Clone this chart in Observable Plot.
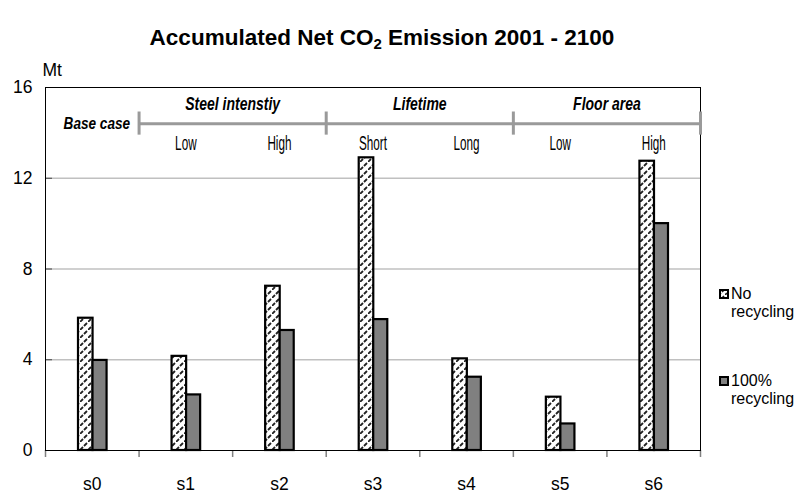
<!DOCTYPE html>
<html>
<head>
<meta charset="utf-8">
<script src="https://cdn.jsdelivr.net/npm/d3@7"></script>
<script src="https://cdn.jsdelivr.net/npm/@observablehq/plot@0.6"></script>
<style>
  body { margin: 0; background: #fff; font-family: "Liberation Sans", Arial, sans-serif; }
  #wrap { position: relative; width: 808px; height: 495px; overflow: hidden; background: #fff; }
  #title { position: absolute; left: 0; top: 26px; width: 764px; text-align: center; font-weight: bold; font-size: 22.5px; line-height: 24px; color: #000; }
  #title .sub { font-size: 15px; vertical-align: -4px; }
  #chart { position: absolute; left: 0; top: 50px; }
  .leg { position: absolute; left: 719px; font-size: 16px; line-height: 18px; color: #000; }
  .leg svg { position: absolute; left: 0; top: 4px; }
  .leg div { padding-left: 12px; }
</style>
</head>
<body>
<div id="wrap">
  <div id="title">Accumulated Net CO<span class="sub">2</span> Emission 2001 - 2100</div>
  <div id="chart"></div>
  <div id="legend"></div>
</div>
<script>
// ---- data ----
const categories = ["s0", "s1", "s2", "s3", "s4", "s5", "s6"];
const noRecycling = [5.83, 4.15, 7.24, 12.9, 4.04, 2.35, 12.75];
const fullRecycling = [3.97, 2.45, 5.29, 5.77, 3.23, 1.17, 10.0];
const yTicks = [0, 4, 8, 12, 16];
const seriesNames = [["No", "recycling"], ["100%", "recycling"]];
const baseLabel = "Base case";
const baseCategory = "s0";
const groupNames = ["Steel intenstiy", "Lifetime", "Floor area"];
const groupStarts = ["s1", "s3", "s5"];
const groupEnds = ["s2", "s4", "s6"];
const subLabels = ["Low", "High", "Short", "Long", "Low", "High"];
const subCategories = ["s1", "s2", "s3", "s4", "s5", "s6"];
const unitLabel = "Mt";

// ---- derived tables ----
const idx = c => categories.indexOf(c);
const bars = categories.map((c, i) => ({cat: c, i, no: noRecycling[i], full: fullRecycling[i]}));
const groups = groupNames.map((g, k) => ({name: g, a: idx(groupStarts[k]), b: idx(groupEnds[k]) + 1}));
const bracketEdges = [...groups.map(g => g.a), groups[groups.length - 1].b];
const subs = subLabels.map((s, k) => ({text: s, x: idx(subCategories[k]) + 0.5}));

// annotation levels (layout)
const bracketLevel = 14.4, bracketTop = 14.92, bracketBottom = 13.9, groupLevel = 15.02, subLevel = 13.5;

const chart = Plot.plot({
  width: 808,
  height: 445,
  marginLeft: 45,
  marginRight: 108,
  marginTop: 37,
  marginBottom: 45,
  x: {domain: [0, categories.length], axis: null},
  y: {domain: [0, 16], axis: null},
  style: {fontFamily: "'Liberation Sans', Arial, sans-serif", fontSize: "16px", color: "#000", background: "#fff", overflow: "visible"},
  marks: [
    Plot.ruleY(yTicks.filter(d => d > 0 && d < 16), {stroke: "#c0c0c0", strokeWidth: 1.5}),
    Plot.axisY({ticks: yTicks, tickSize: 0, tickPadding: 13, fontSize: 17.5, tickFormat: d => String(d)}),
    Plot.axisY({ticks: yTicks.filter(d => d > 0 && d < 16), tickSize: -7, tickFormat: () => "", stroke: "#444"}),
    Plot.axisX({ticks: d3.range(0, categories.length + 1), tickSize: 7, tickFormat: () => "", stroke: "#808080", strokeWidth: 1.5}),
    Plot.axisX({ticks: categories.map((c, i) => i + 0.5), tickFormat: d => categories[Math.floor(d)], tickSize: 0, tickPadding: 27, fontSize: 17.5}),
    Plot.rectY(bars, {x1: "i", x2: d => d.i + 1, y: "no", insetLeft: 33, insetRight: 46, fill: "url(#hatch)", stroke: "#000", strokeWidth: 2.2}),
    Plot.rectY(bars, {x1: "i", x2: d => d.i + 1, y: "full", insetLeft: 47.5, insetRight: 32, fill: "#808080", stroke: "#000", strokeWidth: 2.2}),
    Plot.frame({stroke: "#000"}),
    Plot.ruleY([bracketLevel], {x1: bracketEdges[0], x2: bracketEdges[bracketEdges.length - 1], stroke: "#9a9a9a", strokeWidth: 3}),
    Plot.ruleX(bracketEdges, {y1: bracketBottom, y2: bracketTop, stroke: "#9a9a9a", strokeWidth: 3}),
    Plot.text(groups, {x: d => (d.a + d.b) / 2, y: groupLevel, text: "name", lineAnchor: "bottom", fontWeight: "bold", fontStyle: "italic", fontSize: 17.5, className: "cond-a"}),
    Plot.text([baseLabel], {x: idx(baseCategory) + 1, y: bracketLevel, text: d => d, textAnchor: "end", dx: -9, fontWeight: "bold", fontStyle: "italic", fontSize: 17, className: "cond-a"}),
    Plot.text(subs, {x: "x", y: subLevel, text: "text", fontSize: 19.5, className: "cond-b"}),
    Plot.text([unitLabel], {frameAnchor: "top-left", text: d => d, textAnchor: "start", dx: -3, dy: -24, fontSize: 17.5})
  ]
});

// hatch pattern
const svg = d3.select(chart);
const defs = svg.insert("defs", ":first-child");
const pat = defs.append("pattern").attr("id", "hatch").attr("patternUnits", "userSpaceOnUse").attr("width", 8).attr("height", 8);
pat.append("rect").attr("width", 8).attr("height", 8).attr("fill", "#fff");
pat.append("path").attr("d", "M0,8L3,5M4,4L7,1").attr("stroke", "#222").attr("stroke-width", 1.8);

// condensed text look
function condense(cls, k) {
  svg.selectAll(`g.${cls} text`).each(function() {
    const t = this.getAttribute("transform") || "";
    const x = this.getAttribute("x");
    if (x != null) { this.setAttribute("x", +x / k); }
    this.setAttribute("transform", (t + ` scale(${k},1)`).trim());
  });
}
condense("cond-a", 0.8);
condense("cond-b", 0.6);

document.getElementById("chart").appendChild(chart);

// legend
const legend = document.getElementById("legend");
const legTops = [285, 372];
seriesNames.forEach((lines, k) => {
  const el = document.createElement("div");
  el.className = "leg";
  el.style.top = legTops[k] + "px";
  const fill = k === 0 ? "url(#hatchL)" : "#808080";
  el.innerHTML = `<svg width="10" height="10"><defs><pattern id="hatchL" patternUnits="userSpaceOnUse" width="6" height="6"><rect width="6" height="6" fill="#fff"/><path d="M0,6L2,4M3,3L5,1" stroke="#222" stroke-width="1.7"/></pattern></defs><rect x="1" y="1" width="8" height="8" fill="${fill}" stroke="#000" stroke-width="2"/></svg>` +
    lines.map(l => `<div>${l}</div>`).join("");
  legend.appendChild(el);
});
</script>
</body>
</html>
